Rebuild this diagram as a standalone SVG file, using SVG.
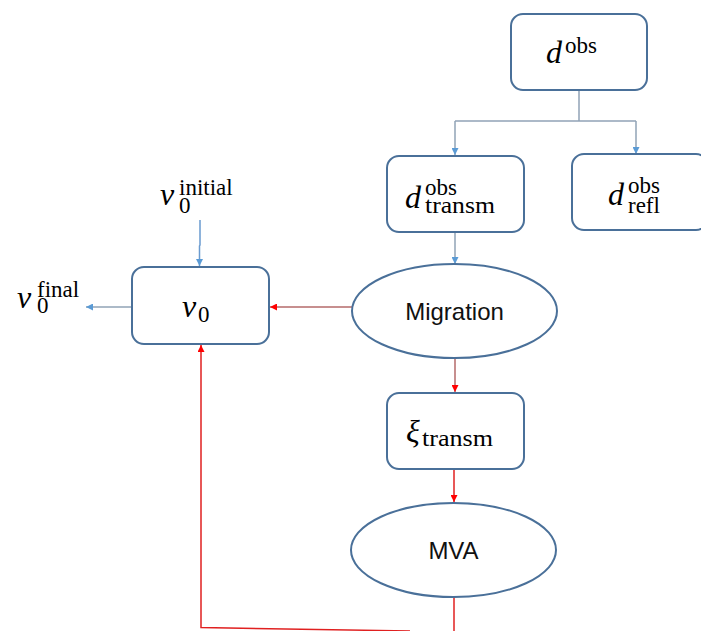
<svg xmlns="http://www.w3.org/2000/svg" width="701" height="631" viewBox="0 0 701 631">
<style>
.node{fill:#fff;stroke:#4a7099;stroke-width:2}
.m{font-family:"Liberation Serif","DejaVu Serif",serif;fill:#000;font-size:23px}
.v{font-style:italic;font-size:32px}
.lbl{font-family:"Liberation Sans",Arial,sans-serif;font-size:24px;fill:#111;text-anchor:middle}
.gb{stroke:#91a3b6;stroke-width:1.5;fill:none}
.bl{stroke:#6a9bd0;stroke-width:1.5;fill:none}
.rd{stroke:#e02020;stroke-width:1.5;fill:none}
.br{stroke:#b56a6a;stroke-width:1.5;fill:none}
</style>
<defs>
<marker id="ab" viewBox="0 0 10 10" refX="10" refY="5" markerWidth="7" markerHeight="7" markerUnits="userSpaceOnUse" orient="auto"><path d="M0,0L10,5L0,10z" fill="#5b9bd5"/></marker>
<marker id="ar" viewBox="0 0 10 10" refX="10" refY="5" markerWidth="7" markerHeight="7" markerUnits="userSpaceOnUse" orient="auto"><path d="M0,0L10,5L0,10z" fill="#ff0000"/></marker>
</defs>
<g id="connectors">
<path class="gb" d="M579,90V121M455,121H636"/>
<path class="gb" d="M455,121V155" marker-end="url(#ab)"/>
<path class="gb" d="M636,121V154" marker-end="url(#ab)"/>
<path class="gb" d="M455,232V264" marker-end="url(#ab)"/>
<path class="bl" d="M200,220V245L199.5,246V266" marker-end="url(#ab)"/>
<path class="gb" d="M132,307H86" marker-end="url(#ab)"/>
<path class="br" d="M352,307H270" marker-end="url(#ar)"/>
<path class="br" d="M455,358V392" marker-end="url(#ar)"/>
<path class="rd" d="M454,469V502" marker-end="url(#ar)"/>
<path class="rd" d="M454,597V631" stroke-width="2" stroke="#d03030"/>
<path class="rd" d="M410,631L201,627.5V345" marker-end="url(#ar)"/>
</g>
<g id="dobs">
<rect class="node" x="511" y="14" width="136" height="76" rx="12"/>
<text class="m"><tspan class="v" x="546" y="63">d</tspan><tspan x="565" y="53">obs</tspan></text>
</g>
<g id="dtransm">
<rect class="node" x="387" y="156" width="137" height="76" rx="12"/>
<text class="m"><tspan class="v" x="405" y="208">d</tspan><tspan x="425" y="195">obs</tspan><tspan x="425" y="213" textLength="70" lengthAdjust="spacingAndGlyphs">transm</tspan></text>
</g>
<g id="drefl">
<rect class="node" x="572" y="154" width="136" height="76" rx="12"/>
<text class="m"><tspan class="v" x="608" y="205">d</tspan><tspan x="628" y="193">obs</tspan><tspan x="628" y="213">refl</tspan></text>
</g>
<g id="v0initial">
<text class="m"><tspan class="v" x="160" y="205">v</tspan><tspan x="179" y="195">initial</tspan><tspan x="179" y="213">0</tspan></text>
</g>
<g id="v0final">
<text class="m"><tspan class="v" x="17" y="308">v</tspan><tspan x="37" y="297">final</tspan><tspan x="37" y="313">0</tspan></text>
</g>
<g id="v0">
<rect class="node" x="132" y="267" width="137" height="77" rx="12"/>
<text class="m"><tspan class="v" x="182" y="317">v</tspan><tspan x="198" y="322">0</tspan></text>
</g>
<g id="migration">
<ellipse class="node" cx="454.5" cy="311" rx="102.5" ry="47"/>
<text class="lbl" x="454.5" y="320">Migration</text>
</g>
<g id="xi">
<rect class="node" x="387" y="393" width="137" height="76" rx="12"/>
<text class="m"><tspan class="v" x="406" y="442">ξ</tspan><tspan x="422" y="446" textLength="71" lengthAdjust="spacingAndGlyphs">transm</tspan></text>
</g>
<g id="mva">
<ellipse class="node" cx="453.5" cy="550" rx="102.5" ry="47"/>
<text class="lbl" x="453.5" y="559">MVA</text>
</g>
</svg>
